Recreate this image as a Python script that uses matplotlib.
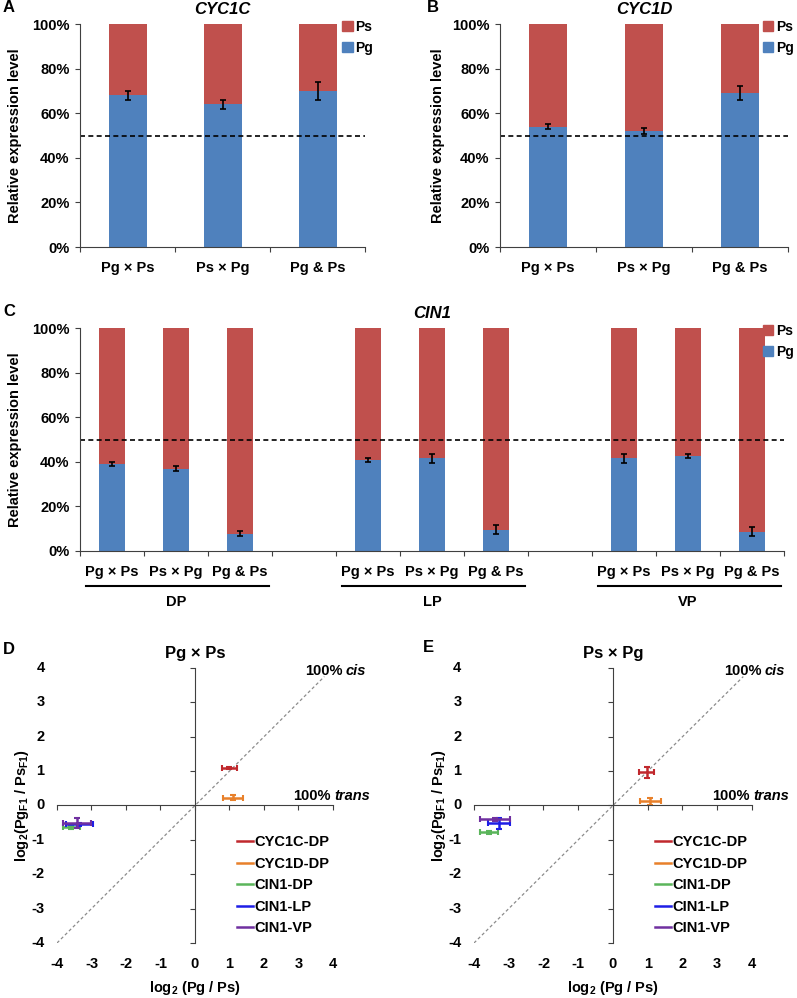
import matplotlib.pyplot as plt
import matplotlib.transforms as mtransforms
from matplotlib.patches import Patch
from matplotlib.lines import Line2D
import numpy as np

plt.rcParams['font.family'] = ['Liberation Sans', 'DejaVu Sans']
plt.rcParams['font.weight'] = 'bold'
plt.rcParams['axes.labelweight'] = 'bold'
plt.rcParams['axes.titleweight'] = 'bold'
plt.rcParams['font.size'] = 10.5
plt.rcParams['mathtext.fontset'] = 'custom'
plt.rcParams['mathtext.rm'] = 'Liberation Sans:bold'
plt.rcParams['mathtext.it'] = 'Liberation Sans:bold:italic'
plt.rcParams['mathtext.bf'] = 'Liberation Sans:bold'
plt.rcParams['mathtext.default'] = 'rm'

# --- данные панелей A-C (доля аллеля Pg, %)
crosses = ['Pg × Ps', 'Ps × Pg', 'Pg & Ps']
cyc1c_pg = [68, 64, 70]
cyc1c_err = [2, 2, 4]
cyc1d_pg = [54, 52, 69]
cyc1d_err = [1, 1.5, 3]
tissues = ['DP', 'LP', 'VP']
cin1_pg = [39, 37, 7.8, 40.8, 41.5, 9.5, 41.5, 42.5, 8.6]
cin1_err = [1, 1, 1, 1, 2, 2, 2, 1, 2]
pct_ticks = [0, 20, 40, 60, 80, 100]

# --- данные панелей D-E (log2 отношения)
series = ['CYC1C-DP', 'CYC1D-DP', 'CIN1-DP', 'CIN1-LP', 'CIN1-VP']
series_colors = ['#C0282D', '#E8802A', '#5BB55B', '#1E1EE6', '#7030A0']
d_x = [1.0, 1.1, -3.58, -3.35, -3.42]
d_y = [1.1, 0.23, -0.64, -0.55, -0.5]
d_xerr = [0.22, 0.29, 0.25, 0.38, 0.42]
d_yerr = [0.03, 0.08, 0.05, 0.05, 0.15]
e_x = [0.97, 1.07, -3.57, -3.29, -3.4]
e_y = [0.96, 0.12, -0.78, -0.52, -0.4]
e_xerr = [0.22, 0.3, 0.25, 0.32, 0.43]
e_yerr = [0.15, 0.1, 0.05, 0.15, 0.04]
log_ticks = [-4, -3, -2, -1, 0, 1, 2, 3, 4]

PG_COLOR = '#4F81BD'
PS_COLOR = '#C0504D'
AXIS_COLOR = '#404040'


def bar_panel(ax, pos, pg, err, labels, n_cat, title, legend_x):
    pg = np.array(pg)
    ax.bar(pos, pg, 0.4, color=PG_COLOR)
    ax.bar(pos, 100 - pg, 0.4, bottom=pg, color=PS_COLOR)
    ax.errorbar(pos, pg, yerr=err, fmt='none', ecolor='black',
                elinewidth=1.2, capsize=2.2, capthick=1.2)
    ax.axhline(50, color='black', lw=1.2, ls=(0, (3, 2)))

    ax.set_xlim(0, n_cat)
    ax.set_ylim(0, 100)
    ax.set_yticks(pct_ticks, [f'{v}%' for v in pct_ticks])
    ax.set_xticks(np.arange(n_cat + 1), [''] * (n_cat + 1))
    ax.set_xticks(pos, labels, minor=True)
    ax.tick_params(axis='x', which='minor', length=0, pad=10)
    ax.tick_params(which='major', length=3.5, color=AXIS_COLOR, pad=4)
    for s in ['top', 'right']:
        ax.spines[s].set_visible(False)
    for s in ['left', 'bottom']:
        ax.spines[s].set_color(AXIS_COLOR)

    ax.set_title(title, style='italic', fontsize=12, pad=7)
    ax.set_ylabel('Relative expression level', fontsize=10.5)

    ax.legend(handles=[Patch(color=PS_COLOR, label='Ps'),
                       Patch(color=PG_COLOR, label='Pg')],
              loc='upper left', bbox_to_anchor=(legend_x, 1.02),
              frameon=False, handlelength=0.75, handleheight=0.75,
              handletextpad=0.2, borderpad=0, borderaxespad=0,
              labelspacing=0.5, fontsize=10)


def cis_trans_panel(ax, xs, ys, xerr, yerr, title):
    ax.set_xlim(-4, 4)
    ax.set_ylim(-4, 4)
    ax.spines['left'].set_position('zero')
    ax.spines['bottom'].set_position('zero')
    for s in ['top', 'right']:
        ax.spines[s].set_visible(False)
    for s in ['left', 'bottom']:
        ax.spines[s].set_color(AXIS_COLOR)

    ax.plot([-4, 3.75], [-4, 3.75], color='#8C8C8C', lw=0.9, ls=(0, (2.5, 2)))

    for x, y, xe, ye, c in zip(xs, ys, xerr, yerr, series_colors):
        ax.errorbar(x, y, xerr=xe, yerr=ye, fmt='none', ecolor=c,
                    elinewidth=1.8, capsize=2, capthick=1.5)

    ax.set_xticks(log_ticks)
    ax.set_yticks(log_ticks)
    ax.tick_params(labelleft=False, labelbottom=False, direction='out',
                   length=3.5, color=AXIS_COLOR)
    # подписи делений у края, а не у осей (как в Excel)
    ty = mtransforms.blended_transform_factory(ax.transAxes, ax.transData)
    tx = mtransforms.blended_transform_factory(ax.transData, ax.transAxes)
    for v in log_ticks:
        ax.text(-0.045, v, str(v), transform=ty, ha='right', va='center')
        ax.text(v, -0.076, str(v), transform=tx, ha='center', va='center')

    ax.set_title(title, fontsize=12, pad=7)
    ax.set_xlabel('log$_2$ (Pg / Ps)', va='center')
    ax.xaxis.set_label_coords(0.5, -0.164)
    ax.set_ylabel('log$_2$(Pg$_{F1}$ / Ps$_{F1}$)', va='center')
    ax.yaxis.set_label_coords(-0.125, 0.5)

    cis = ax.text(4.96, 3.72, 'cis', ha='right', va='bottom', style='italic')
    ax.annotate('100%', xy=(0, 0), xycoords=cis, xytext=(-2.5, 0),
                textcoords='offset points', ha='right', va='bottom')
    trans = ax.text(5.07, 0.07, 'trans', ha='right', va='bottom', style='italic')
    ax.annotate('100%', xy=(0, 0), xycoords=trans, xytext=(-2.5, 0),
                textcoords='offset points', ha='right', va='bottom')

    handles = [Line2D([], [], color=c, lw=1.8, label=s)
               for s, c in zip(series, series_colors)]
    ax.legend(handles=handles, loc='upper left', bbox_to_anchor=(1.22, -0.86),
              bbox_transform=ax.transData, frameon=False, handlelength=1.1,
              handletextpad=0.1, borderpad=0, borderaxespad=0,
              labelspacing=0.52, fontsize=10.5)


fig = plt.figure(figsize=(7.97, 9.98), dpi=100)

ax_a = fig.add_axes([0.1004, 0.7525, 0.3576, 0.2234])
bar_panel(ax_a, np.arange(3) + 0.5, cyc1c_pg, cyc1c_err, crosses, 3, 'CYC1C', 0.92)
ax_a.yaxis.set_label_coords(-0.204, 0.5)

ax_b = fig.add_axes([0.6274, 0.7525, 0.3614, 0.2234])
bar_panel(ax_b, np.arange(3) + 0.5, cyc1d_pg, cyc1d_err, crosses, 3, 'CYC1D', 0.912)
ax_b.yaxis.set_label_coords(-0.19, 0.5)

ax_c = fig.add_axes([0.1004, 0.4479, 0.8833, 0.2234])
c_pos = np.array([g * 4 + i + 0.5 for g in range(3) for i in range(3)])
bar_panel(ax_c, c_pos, cin1_pg, cin1_err, crosses * 3, 11, 'CIN1', 0.97)
ax_c.yaxis.set_label_coords(-0.082, 0.5)
# подчёркивание групп тканей
tc = mtransforms.blended_transform_factory(ax_c.transData, ax_c.transAxes)
for g, name in enumerate(tissues):
    ax_c.plot([g * 4 + 0.1, g * 4 + 2.95], [-0.157, -0.157], color='black',
              lw=1.5, transform=tc, clip_on=False)
    ax_c.text(g * 4 + 1.5, -0.229, name, transform=tc, ha='center', va='center')

ax_d = fig.add_axes([0.0715, 0.0551, 0.3463, 0.2756])
cis_trans_panel(ax_d, d_x, d_y, d_xerr, d_yerr, 'Pg × Ps')

ax_e = fig.add_axes([0.5947, 0.0551, 0.3488, 0.2756])
cis_trans_panel(ax_e, e_x, e_y, e_xerr, e_yerr, 'Ps × Pg')

for letter, x, y in [('A', 3, 8), ('B', 427, 8), ('C', 3, 312),
                     ('D', 3, 650), ('E', 423, 648)]:
    fig.text(x / 797, 1 - y / 998, letter, ha='left', va='center',
             fontsize=12, fontweight='bold')

fig.savefig('out.png', dpi=100)
